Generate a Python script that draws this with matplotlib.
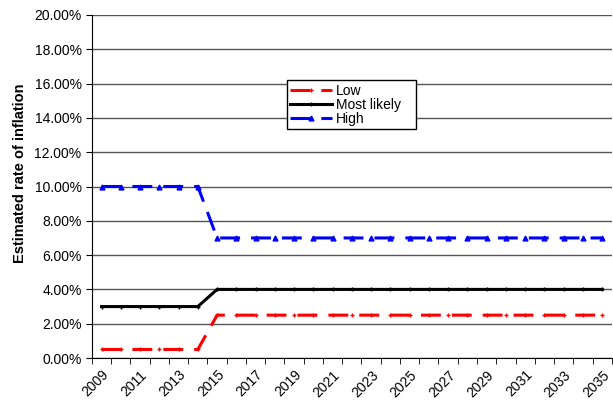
import matplotlib.pyplot as plt
from matplotlib.ticker import PercentFormatter

plt.rcParams['font.family'] = ['Liberation Sans', 'DejaVu Sans']

years = [2009, 2010, 2011, 2012, 2013, 2014, 2015, 2016, 2017, 2018, 2019, 2020, 2021, 2022,
         2023, 2024, 2025, 2026, 2027, 2028, 2029, 2030, 2031, 2032, 2033, 2034, 2035]
low = [0.5, 0.5, 0.5, 0.5, 0.5, 0.5, 2.5, 2.5, 2.5, 2.5, 2.5, 2.5, 2.5, 2.5,
       2.5, 2.5, 2.5, 2.5, 2.5, 2.5, 2.5, 2.5, 2.5, 2.5, 2.5, 2.5, 2.5]
likely = [3, 3, 3, 3, 3, 3, 4, 4, 4, 4, 4, 4, 4, 4,
          4, 4, 4, 4, 4, 4, 4, 4, 4, 4, 4, 4, 4]
high = [10, 10, 10, 10, 10, 10, 7, 7, 7, 7, 7, 7, 7, 7,
        7, 7, 7, 7, 7, 7, 7, 7, 7, 7, 7, 7, 7]

fig = plt.figure(figsize=(6.13, 4.05), dpi=100)
ax = fig.add_axes([0.150, 0.116, 0.848, 0.847])

x = list(range(len(years)))
ax.plot(x, low, color='red', lw=2.2, dashes=(6.5, 3.6), marker='+', ms=3,
        mew=1, label='Low')
ax.plot(x, likely, color='black', lw=2.2, marker='+', ms=3, mew=1,
        label='Most likely   ')
ax.plot(x, high, color='blue', lw=2.2, dashes=(6.5, 3.6), marker='^', ms=3.5,
        label='High')

ax.set_xlim(-0.5, len(years) - 0.5)
ax.set_ylim(0, 20)
ax.set_yticks(range(0, 21, 2))
ax.yaxis.set_major_formatter(PercentFormatter(decimals=2))
ax.grid(axis='y', color='#555555', lw=1)
ax.set_axisbelow(True)

ax.set_xticks(x[::2])
ax.set_xticklabels([str(y) for y in years[::2]], rotation=45, ha='right',
                   rotation_mode='anchor')
ax.set_xticks([i - 0.5 for i in range(len(years) + 1)], minor=True)
ax.tick_params(axis='x', which='major', length=0, pad=7, labelsize=10)
ax.tick_params(axis='x', which='minor', length=4, color='black')
ax.tick_params(axis='y', length=4, labelsize=10)

for s in ['top', 'right']:
    ax.spines[s].set_visible(False)

ax.set_ylabel('Estimated rate of inflation', fontsize=10.5, fontweight='bold')
ax.yaxis.set_label_coords(-0.125, 0.54)

leg = ax.legend(loc='upper left', bbox_to_anchor=(0.375, 0.81), fontsize=10,
                frameon=True, fancybox=False, edgecolor='black', framealpha=1,
                handlelength=3.0, borderpad=0.25, labelspacing=0.0,
                handletextpad=0.3, borderaxespad=0)
leg.get_frame().set_linewidth(1)

fig.savefig('out.png', dpi=100)
